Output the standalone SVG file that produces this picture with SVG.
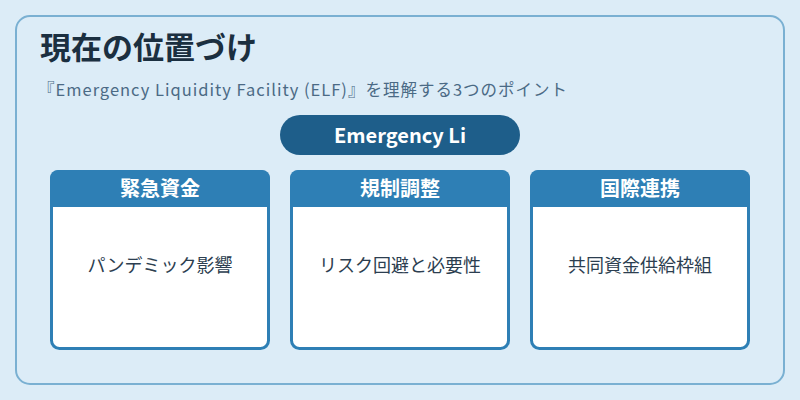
<svg xmlns="http://www.w3.org/2000/svg" width="800" height="400" viewBox="0 0 800 400">
<style>
.jp{font-family:"Noto Sans CJK JP","Noto Sans",sans-serif}
.card{fill:#ffffff;stroke:#2e7fb5;stroke-width:3}
.hdr{fill:#2e7fb5}
.ht{font-size:20px;font-weight:bold;fill:#ffffff;text-anchor:middle}
.bt{font-size:18px;fill:#2c3e50;text-anchor:middle}
</style>
<rect width="800" height="400" fill="#dcecf7"/>
<rect x="16" y="16" width="768" height="368" rx="14" fill="#dcecf7" stroke="#7ab0d2" stroke-width="2"/>
<text class="jp" x="40" y="59" font-size="31" font-weight="bold" fill="#1b2f40">現在の位置づけ</text>
<text class="jp" x="38" y="96" font-size="16.5" letter-spacing="1" fill="#4b6a85">『Emergency Liquidity Facility (ELF)』を理解する3つのポイント</text>
<g id="pill">
<rect x="280" y="115" width="240" height="40" rx="20" fill="#1e5e8a"/>
<text class="jp" x="400" y="143" font-size="20" font-weight="bold" fill="#ffffff" text-anchor="middle">Emergency Li</text>
</g>
<g id="connectors"></g>
<g id="card1">
<rect class="card" x="51.5" y="171.5" width="217" height="177" rx="8"/>
<path class="hdr" d="M50,207 V178 a8,8 0 0 1 8,-8 H262 a8,8 0 0 1 8,8 V207 Z"/>
<text class="jp ht" x="160" y="196">緊急資金</text>
<text class="jp bt" x="160" y="272">パンデミック影響</text>
</g>
<g id="card2">
<rect class="card" x="291.5" y="171.5" width="217" height="177" rx="8"/>
<path class="hdr" d="M290,207 V178 a8,8 0 0 1 8,-8 H502 a8,8 0 0 1 8,8 V207 Z"/>
<text class="jp ht" x="400" y="196">規制調整</text>
<text class="jp bt" x="400" y="272">リスク回避と必要性</text>
</g>
<g id="card3">
<rect class="card" x="531.5" y="171.5" width="217" height="177" rx="8"/>
<path class="hdr" d="M530,207 V178 a8,8 0 0 1 8,-8 H742 a8,8 0 0 1 8,8 V207 Z"/>
<text class="jp ht" x="640" y="196">国際連携</text>
<text class="jp bt" x="640" y="272">共同資金供給枠組</text>
</g>
</svg>
